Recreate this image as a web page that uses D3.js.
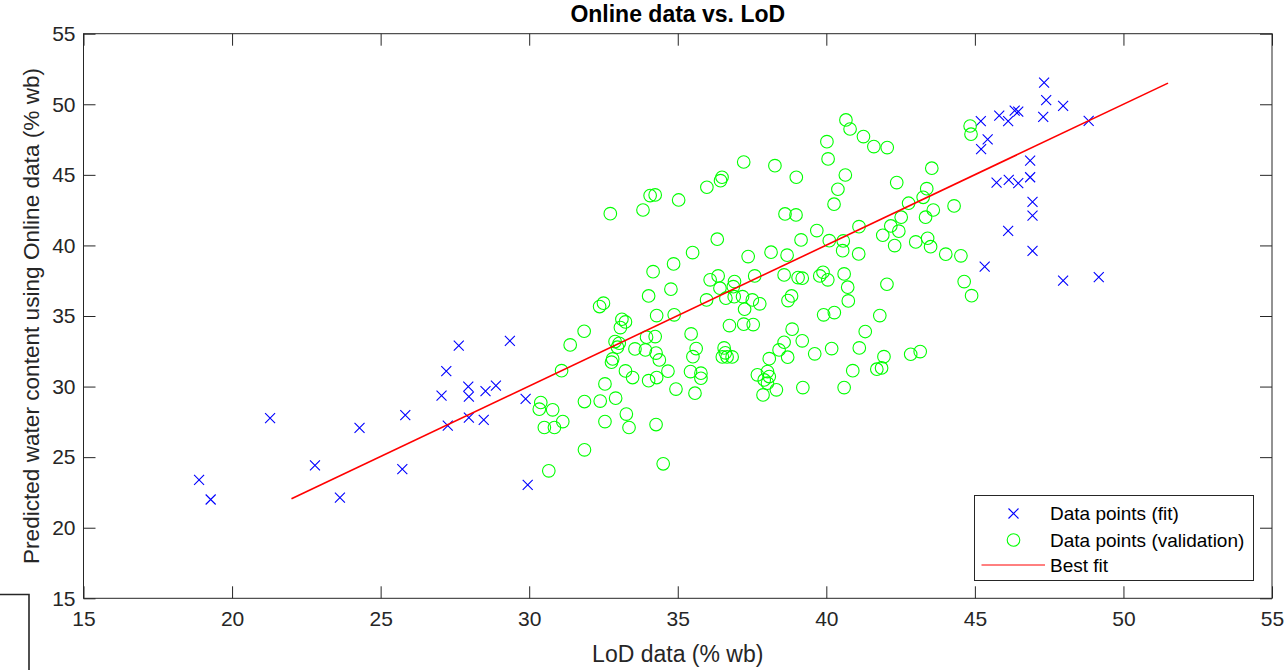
<!DOCTYPE html>
<html>
<head>
<meta charset="utf-8">
<script src="https://cdn.jsdelivr.net/npm/d3@7"></script>
<style>
  html, body { margin: 0; padding: 0; background: #fff; }
  svg { display: block; font-family: "Liberation Sans", Arial, Helvetica, sans-serif; }
</style>
</head>
<body>
<svg id="chart" width="1286" height="670"></svg>
<script>
// ---- data ----
const title = "Online data vs. LoD";
const xLabel = "LoD data (% wb)";
const yLabel = "Predicted water content using Online data (% wb)";
const xTicks = [15, 20, 25, 30, 35, 40, 45, 50, 55];
const yTicks = [15, 20, 25, 30, 35, 40, 45, 50, 55];
const legendLabels = ["Data points (fit)", "Data points (validation)", "Best fit"];

// fit data points (x = LoD, y = Online)
const fitX = [18.89, 19.28, 21.28, 22.79, 23.63, 24.29, 25.83, 25.73, 27.05, 27.21, 27.63, 27.26, 27.95, 27.97, 27.97, 28.53, 28.88, 28.47, 29.35, 29.88, 29.95,
  47.33, 47.40, 47.97, 46.34, 46.46, 45.82, 45.20, 46.12, 47.30, 48.83, 45.43, 45.21, 46.86, 46.86, 45.73, 46.14, 46.46, 46.94, 46.94, 46.12, 46.94, 45.33, 47.97, 49.17];
const fitY = [23.39, 22.00, 27.76, 24.41, 22.14, 27.07, 27.97, 24.15, 29.36, 31.09, 32.90, 27.24, 30.00, 29.29, 27.80, 29.67, 30.07, 27.64, 33.24, 29.13, 23.04,
  51.53, 50.30, 49.88, 49.55, 49.48, 49.19, 48.80, 48.80, 49.10, 48.82, 47.52, 46.83, 46.01, 44.83, 44.45, 44.64, 44.41, 43.08, 42.11, 41.03, 39.61, 38.50, 37.51, 37.75];

// validation data points
const valX = [37.22, 36.49, 36.44, 35.98, 34.07, 34.24, 35.03, 33.83, 32.73, 36.33, 35.50, 34.86, 34.17, 37.37, 36.09, 36.36, 36.42, 36.91, 36.87, 37.59, 34.77,
  34.02, 35.97, 36.62, 36.90, 37.18, 37.51, 37.76, 37.25, 32.50, 32.37, 34.29, 34.88, 31.85, 33.12, 33.24, 33.07, 31.38, 32.89, 33.03, 32.97, 33.95, 34.24,
  33.56, 33.91, 34.27, 34.38, 35.45, 35.62, 35.51, 36.74, 37.22, 37.54, 36.56, 36.50, 36.66, 36.83, 36.60, 32.81, 32.77, 33.24, 33.48, 34.02, 34.29, 34.67,
  35.43, 35.78, 35.78, 34.94, 35.58, 31.09, 32.55, 31.86, 32.39, 32.91, 30.79, 31.13, 30.85, 32.55, 33.27, 33.36, 34.27, 31.86, 34.51, 30.66, 30.39, 30.34, 30.51,
  40.66, 40.80, 41.25, 41.60, 42.05, 40.02, 40.06, 38.27, 38.99, 40.64, 40.39, 40.26, 43.55, 42.37, 43.38, 43.26, 42.77, 44.30, 43.60, 43.34, 42.52, 38.61,
  38.98, 39.68, 39.15, 41.10, 42.17, 42.44, 41.90, 42.30, 43.01, 43.41, 43.51, 40.10, 40.57, 40.55, 41.09, 38.14, 38.68, 44.02, 44.53, 44.84, 44.87,
  38.58, 39.05, 39.19, 39.78, 39.89, 40.05, 40.60, 40.72, 40.74, 42.04, 44.64, 44.89, 38.83, 38.71, 39.91, 40.27, 41.80, 38.85, 38.58, 39.19, 38.41, 38.70,
  38.08, 39.61, 40.18, 41.11, 41.31, 41.94, 42.84, 43.16, 40.89, 41.70, 41.86, 37.68, 38.02, 38.08, 37.91, 38.02, 37.87, 38.32, 39.21, 40.60];
const valY = [45.91, 44.83, 44.59, 44.12, 43.53, 43.58, 43.22, 42.51, 42.25, 40.44, 39.49, 38.69, 38.14, 39.21, 37.56, 37.84, 36.97, 37.44, 37.08, 37.84, 36.90,
  36.42, 36.14, 36.26, 36.37, 36.37, 36.14, 35.86, 35.48, 35.91, 35.67, 35.03, 35.08, 33.92, 34.77, 34.58, 34.18, 32.95, 33.19, 33.07, 32.79, 33.50, 33.54,
  32.67, 32.60, 32.37, 31.89, 33.73, 32.69, 32.12, 34.32, 34.42, 34.39, 32.74, 32.10, 32.10, 32.10, 32.39, 31.96, 31.73, 31.11, 30.64, 30.42, 30.64, 31.09,
  31.06, 30.95, 30.59, 29.82, 29.53, 31.13, 30.19, 28.94, 28.97, 29.18, 28.35, 27.52, 27.10, 27.52, 28.05, 27.10, 27.31, 25.52, 24.53, 24.03, 28.87, 28.40, 27.10,
  48.89, 48.25, 47.71, 47.00, 46.93, 47.35, 46.13, 45.65, 44.83, 44.99, 43.98, 42.92, 45.47, 44.45, 44.02, 43.41, 42.99, 42.80, 42.51, 42.00, 42.00, 42.23,
  42.16, 41.05, 40.39, 41.33, 41.38, 41.01, 40.72, 39.99, 40.25, 40.51, 39.91, 40.34, 40.32, 39.63, 39.40, 39.52, 39.31, 39.38, 39.26, 48.46, 47.88,
  37.91, 37.72, 37.68, 37.84, 38.10, 37.56, 37.98, 37.04, 36.07, 37.25, 37.44, 36.44, 36.42, 36.09, 35.08, 35.24, 35.03, 34.07, 33.14, 33.24, 32.60, 32.08,
  31.98, 32.32, 32.69, 32.74, 33.90, 32.12, 32.29, 32.48, 31.13, 31.23, 31.32, 30.83, 31.06, 30.71, 30.47, 30.24, 29.41, 29.77, 29.93, 29.93];

// best-fit line end points
const bestFitX = [22.0, 51.5];
const bestFitY = [22.05, 51.5];

// ---- drawing ----
(function () {
const mLeft = 83.5, mRight = 1272, mTop = 33.7, mBottom = 598.3;
const axisColor = "#262626";

const svg = d3.select("#chart");
const x = d3.scaleLinear().domain([15, 55]).range([mLeft, mRight]);
const y = d3.scaleLinear().domain([15, 55]).range([mBottom, mTop]);

// bracket artifact at bottom-left of the original image
svg.append("path")
  .attr("d", "M0,594.5H29V670")
  .attr("fill", "none").attr("stroke", axisColor).attr("stroke-width", 1.6);

// axes
const tickLen = 12;
function styleAxis(g, labels) {
  g.select(".domain").remove();
  g.selectAll(".tick line").attr("stroke", axisColor).attr("stroke-width", 1);
  g.selectAll(".tick text").attr("fill", axisColor).style("font-size", "21px")
    .style("font-family", "'Liberation Sans', Arial, sans-serif");
  if (!labels) g.selectAll(".tick text").remove();
}
svg.append("g").attr("transform", `translate(0,${mBottom})`)
  .call(d3.axisBottom(x).tickValues(xTicks).tickSizeInner(-tickLen).tickSizeOuter(0).tickPadding(13).tickFormat(d3.format("d")))
  .call(g => styleAxis(g, true));
svg.append("g").attr("transform", `translate(0,${mTop})`)
  .call(d3.axisTop(x).tickValues(xTicks).tickSizeInner(-tickLen).tickSizeOuter(0))
  .call(g => styleAxis(g, false));
svg.append("g").attr("transform", `translate(${mLeft},0)`)
  .call(d3.axisLeft(y).tickValues(yTicks).tickSizeInner(-tickLen).tickSizeOuter(0).tickPadding(8).tickFormat(d3.format("d")))
  .call(g => styleAxis(g, true));
svg.append("g").attr("transform", `translate(${mRight},0)`)
  .call(d3.axisRight(y).tickValues(yTicks).tickSizeInner(-tickLen).tickSizeOuter(0))
  .call(g => styleAxis(g, false));

// box
svg.append("rect").attr("x", mLeft).attr("y", mTop)
  .attr("width", mRight - mLeft).attr("height", mBottom - mTop)
  .attr("fill", "none").attr("stroke", axisColor).attr("stroke-width", 1);

const plot = svg.append("g");

// markers
const xr = 5;
function xMarker(sel) {
  sel.append("path")
    .attr("d", `M${-xr},${-xr}L${xr},${xr}M${-xr},${xr}L${xr},${-xr}`)
    .attr("stroke", "#0000ff").attr("stroke-width", 1.1).attr("fill", "none");
}
const fitData = fitX.map((v, i) => ({ x: v, y: fitY[i] }));
const valData = valX.map((v, i) => ({ x: v, y: valY[i] }));

plot.selectAll("g.fit").data(fitData).join("g").attr("class", "fit")
  .attr("transform", d => `translate(${x(d.x)},${y(d.y)})`)
  .call(xMarker);

plot.selectAll("circle.val").data(valData).join("circle").attr("class", "val")
  .attr("cx", d => x(d.x)).attr("cy", d => y(d.y)).attr("r", 6.3)
  .attr("fill", "none").attr("stroke", "#00ff00").attr("stroke-width", 1.1);

const line = d3.line().x(d => x(d[0])).y(d => y(d[1]));
plot.append("path").datum(bestFitX.map((v, i) => [v, bestFitY[i]]))
  .attr("d", line).attr("stroke", "#ff0000").attr("stroke-width", 1.6).attr("fill", "none");

// title and labels
svg.append("text").attr("x", (mLeft + mRight) / 2).attr("y", 22)
  .attr("text-anchor", "middle").attr("fill", "#000")
  .style("font-size", "23px").style("font-weight", "bold").text(title);
svg.append("text").attr("x", (mLeft + mRight) / 2).attr("y", 662)
  .attr("text-anchor", "middle").attr("fill", axisColor)
  .style("font-size", "23px").text(xLabel);
svg.append("text").attr("transform", `translate(39,${(mTop + mBottom) / 2}) rotate(-90)`)
  .attr("text-anchor", "middle").attr("fill", axisColor)
  .style("font-size", "22.6px").text(yLabel);

// legend
const lg = svg.append("g");
const lx = 974.5, ly = 495.5, lw = 279, lh = 85;
lg.append("rect").attr("x", lx).attr("y", ly).attr("width", lw).attr("height", lh)
  .attr("fill", "#fff").attr("stroke", axisColor).attr("stroke-width", 1);
const rowY = [513.5, 540, 565];
const symX = 1013.5;
lg.append("g").attr("transform", `translate(${symX},${rowY[0]})`).call(xMarker);
lg.append("circle").attr("cx", symX).attr("cy", rowY[1]).attr("r", 6.3)
  .attr("fill", "none").attr("stroke", "#00ff00").attr("stroke-width", 1.1);
lg.append("line").attr("x1", 981.5).attr("x2", 1045).attr("y1", rowY[2]).attr("y2", rowY[2])
  .attr("stroke", "#ff0000").attr("stroke-width", 1);
lg.selectAll("text.lt").data(legendLabels).join("text").attr("class", "lt")
  .attr("x", 1050).attr("y", (d, i) => rowY[i]).attr("dy", "0.35em")
  .attr("fill", "#000").style("font-size", "19px").text(d => d);
})();
</script>
</body>
</html>
